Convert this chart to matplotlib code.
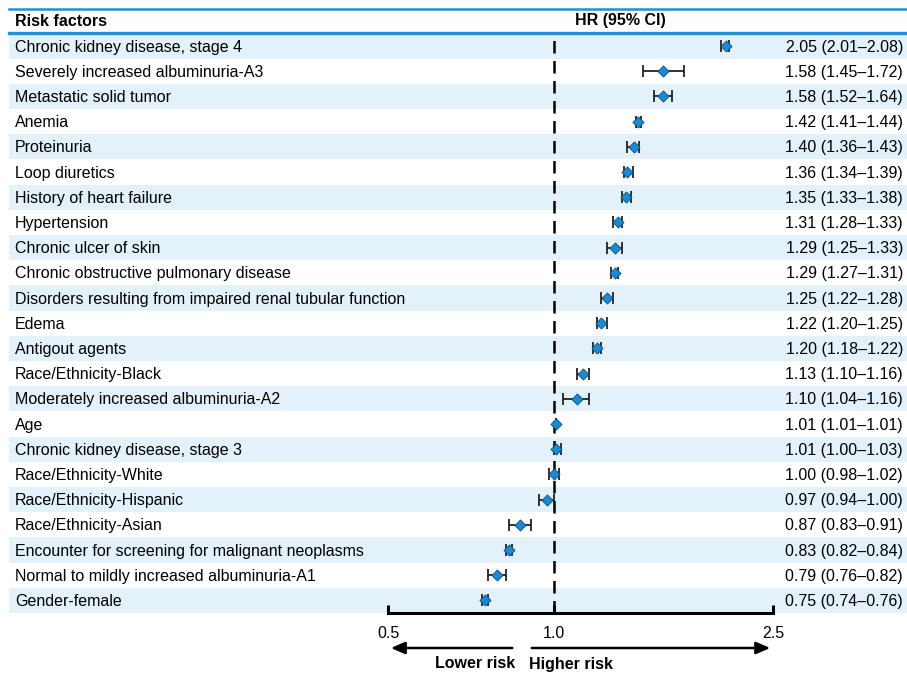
import numpy as np
import matplotlib.pyplot as plt
from matplotlib.patches import FancyArrowPatch
from matplotlib.transforms import blended_transform_factory

plt.rcParams['font.family'] = ['Liberation Sans', 'DejaVu Sans']

factors = [
    "Chronic kidney disease, stage 4",
    "Severely increased albuminuria-A3",
    "Metastatic solid tumor",
    "Anemia",
    "Proteinuria",
    "Loop diuretics",
    "History of heart failure",
    "Hypertension",
    "Chronic ulcer of skin",
    "Chronic obstructive pulmonary disease",
    "Disorders resulting from impaired renal tubular function",
    "Edema",
    "Antigout agents",
    "Race/Ethnicity-Black",
    "Moderately increased albuminuria-A2",
    "Age",
    "Chronic kidney disease, stage 3",
    "Race/Ethnicity-White",
    "Race/Ethnicity-Hispanic",
    "Race/Ethnicity-Asian",
    "Encounter for screening for malignant neoplasms",
    "Normal to mildly increased albuminuria-A1",
    "Gender-female",
]
hr = [2.05, 1.58, 1.58, 1.42, 1.40, 1.36, 1.35, 1.31, 1.29, 1.29, 1.25, 1.22,
      1.20, 1.13, 1.10, 1.01, 1.01, 1.00, 0.97, 0.87, 0.83, 0.79, 0.75]
ci_low = [2.01, 1.45, 1.52, 1.41, 1.36, 1.34, 1.33, 1.28, 1.25, 1.27, 1.22, 1.20,
          1.18, 1.10, 1.04, 1.01, 1.00, 0.98, 0.94, 0.83, 0.82, 0.76, 0.74]
ci_high = [2.08, 1.72, 1.64, 1.44, 1.43, 1.39, 1.38, 1.33, 1.33, 1.31, 1.28, 1.25,
           1.22, 1.16, 1.16, 1.01, 1.03, 1.02, 1.00, 0.91, 0.84, 0.82, 0.76]
xticks = [0.5, 1.0, 2.5]

W, H = 907, 674
blue = '#1e8fdd'
band = '#e3f1fb'
marker_c = '#1b8ad3'
fs = 11.5

fig = plt.figure(figsize=(W / 100, H / 100), dpi=100)

def px_axes(x0, y0, x1, y1):
    # axes from pixel box (top-left origin)
    return fig.add_axes([x0 / W, 1 - y1 / H, (x1 - x0) / W, (y1 - y0) / H])

n = len(factors)
rows = np.arange(n)
top, bottom = 33.5, 613.0

# background table: bands, labels, values
bg = px_axes(9, top, W, bottom)
bg.set_xlim(0, 1)
bg.set_ylim(n - 0.5, -0.5)
bg.axis('off')
for i in rows[::2]:
    bg.axhspan(i - 0.5, i + 0.5, color=band, lw=0)
tr = blended_transform_factory(fig.transFigure, bg.transData)
for i, (name, h, lo, hi) in enumerate(zip(factors, hr, ci_low, ci_high)):
    fig.text(15 / W, i + 0.04, name, transform=tr, ha='left', va='center', fontsize=fs)
    fig.text(903 / W, i + 0.04, f"{h:.2f} ({lo:.2f}\u2013{hi:.2f})", transform=tr,
             ha='right', va='center', fontsize=fs)

# header
fig.add_artist(plt.Line2D([9 / W, 1], [1 - 8.5 / H] * 2, color=blue, lw=1.8))
fig.add_artist(plt.Line2D([9 / W, 1], [1 - 33 / H] * 2, color=blue, lw=2.4))
fig.text(15 / W, 1 - 21 / H, "Risk factors", ha='left', va='center',
         fontsize=fs, fontweight='bold')
fig.text(620 / W, 1 - 21 / H, "HR (95% CI)", ha='center', va='center',
         fontsize=fs, fontweight='bold')

# forest plot
ax = px_axes(388, top, 773, bottom)
ax.patch.set_alpha(0)
ax.set_xscale('log')
ax.set_xlim(0.5, 2.5)
ax.set_ylim(n - 0.5, -0.5)
hr_a = np.array(hr)
err = np.vstack([hr_a - np.array(ci_low), np.array(ci_high) - hr_a])
ax.axvline(1.0, color='black', ls=(0, (5, 3)), lw=1.8, zorder=1)
ax.errorbar(hr_a, rows, xerr=err, fmt='none', ecolor='#222222', elinewidth=1.3,
            capsize=4, capthick=1.3, zorder=2)
ax.scatter(hr_a, rows, marker='D', s=32, color=marker_c, edgecolor='#0d4f7a',
           linewidth=0.6, zorder=3)
for s in ['top', 'left', 'right']:
    ax.spines[s].set_visible(False)
ax.spines['bottom'].set_linewidth(2.2)
ax.set_yticks([])
ax.set_xticks(xticks)
ax.set_xticklabels([f"{t:.1f}" for t in xticks], fontsize=fs)
ax.xaxis.set_minor_locator(plt.NullLocator())
ax.tick_params(axis='x', direction='in', length=6, width=2.2, pad=9)

# risk direction arrows
ay = 1 - 648 / H
for x0, x1 in [(515, 388), (529, 773)]:
    fig.add_artist(FancyArrowPatch(
        (x0 / W, ay), (x1 / W, ay), transform=fig.transFigure,
        arrowstyle='-|>,head_length=0.7,head_width=0.3', mutation_scale=12,
        lw=1.8, color='black'))
fig.text(515 / W, 1 - 664 / H, "Lower risk", ha='right', va='center',
         fontsize=fs, fontweight='bold')
fig.text(529 / W, 1 - 664 / H, "Higher risk", ha='left', va='center',
         fontsize=fs, fontweight='bold')

fig.savefig('out.png', dpi=100)
